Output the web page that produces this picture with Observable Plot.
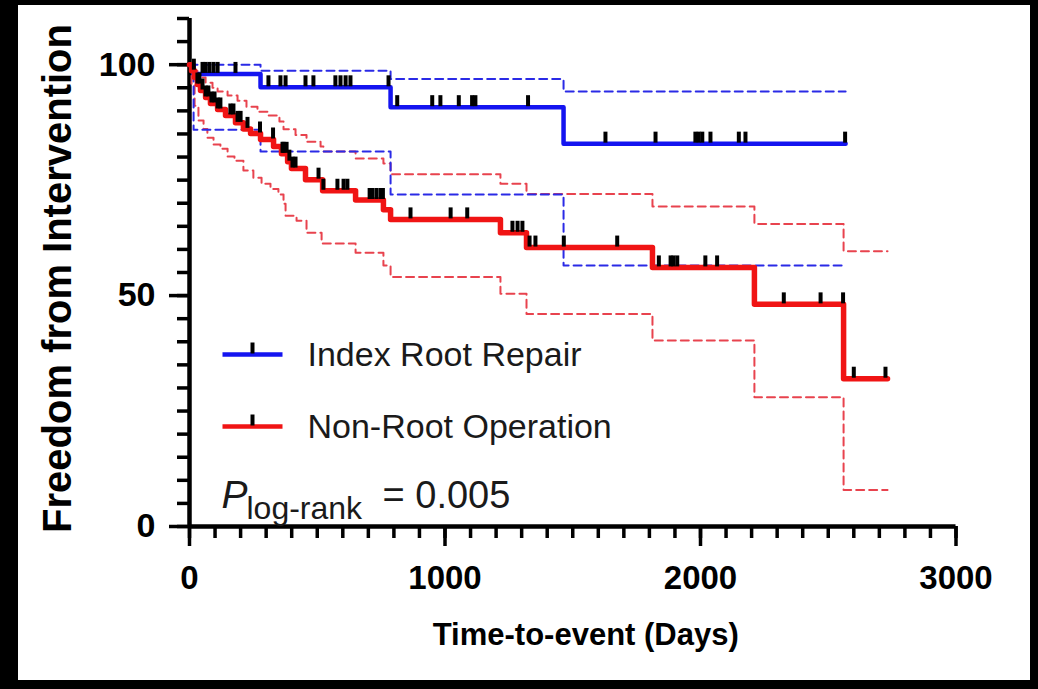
<!DOCTYPE html>
<html><head><meta charset="utf-8">
<script src="https://cdn.jsdelivr.net/npm/d3@7"></script>
<script src="https://cdn.jsdelivr.net/npm/@observablehq/plot@0.6"></script>
<style>
html,body{margin:0;padding:0;background:#000;width:1038px;height:689px;overflow:hidden;}
#panel{position:absolute;left:18px;top:5px;width:1012px;height:675px;background:#fff;}
#chart{position:absolute;left:0;top:0;}
</style></head><body><div id="panel"></div><div id="chart"></div>
<script>
// ---- Data ----
const groups = ["Index Root Repair", "Non-Root Operation"];

const blueTime = [0, 16, 278, 787, 1464, 2568];
const blueSurv = [100, 98.0, 95.1, 90.8, 82.9, 82.9];
const blueUpperTime = [0, 278, 787, 1464, 2568];
const blueUpper = [100, 98.7, 96.9, 94.2, 94.2];
const blueLowerTime = [0, 16, 278, 787, 1464, 2568];
const blueLower = [100, 85.9, 81.2, 71.9, 56.5, 56.5];
const blueCensor = [51, 63, 78, 94, 110, 180, 309, 356, 376, 454, 485, 571, 591, 611, 630, 779,
  813, 950, 982, 1054, 1106, 1119, 1325, 1628, 1824, 1980, 1993, 2007, 2039, 2150, 2176, 2566];

const redTime = [0, 8, 20, 31, 43, 63, 82, 110, 141, 180, 211, 239, 278, 329, 360, 384, 399, 454, 521, 650,
  759, 787, 1217, 1319, 1812, 2211, 2560, 2732];
const redSurv = [100, 98.7, 97.2, 95.7, 94.4, 92.9, 91.6, 90.3, 89.0, 87.4, 86.1, 85.1, 83.8, 82.3, 80.7, 79.0, 77.5, 75.1, 72.7, 70.7,
  68.6, 66.5, 63.6, 60.4, 56.1, 48.1, 32.0, 32.0];
const redUpperTime = [0, 12, 31, 63, 90, 110, 149, 188, 223, 266, 309, 352, 368, 415, 458, 513, 524, 650, 759, 787,
  1217, 1319, 1812, 2211, 2560, 2732];
const redUpper = [100, 98.7, 97.2, 96.1, 95.0, 94.2, 93.3, 92.2, 90.9, 89.8, 89.0, 87.7, 86.0, 84.8, 83.3, 82.3, 81.2, 79.7, 78.6, 76.3,
  74.2, 72.0, 69.3, 65.5, 59.6, 59.6];
const redLowerTime = [0, 8, 20, 35, 55, 70, 94, 121, 149, 176, 211, 250, 282, 317, 348, 368, 376, 419, 458, 517,
  650, 759, 787, 1217, 1319, 1812, 2211, 2560, 2732];
const redLower = [100, 95.5, 91.1, 87.9, 86.1, 84.2, 82.7, 81.8, 80.1, 79.2, 77.1, 75.5, 74.2, 73.1, 71.9, 69.9, 67.3, 66.2, 63.6, 61.3,
  59.3, 56.5, 54.0, 50.4, 46.0, 40.3, 28.0, 7.9, 7.9];
const redCensor = [17, 31, 39, 51, 63, 74, 86, 98, 110, 121, 160, 172, 188, 200, 227, 276, 327, 364, 368, 380, 391, 403, 415,
  505, 524, 579, 603, 618, 705, 716, 732, 748, 757, 865, 1022, 1087, 1264, 1284, 1303, 1331, 1354, 1465,
  1674, 1837, 1883, 1894, 1909, 2019, 2065, 2326, 2470, 2558, 2600, 2724];

const xMajorTicks = [0, 1000, 2000, 3000];
const yMajorTicks = [0, 50, 100];
const pLabel = "P";
const pSub = "log-rank";
const pValue = "= 0.005";
const xTitle = "Time-to-event (Days)";
const yTitle = "Freedom from Intervention";

// ---- helpers ----
const zip = (t, v) => t.map((d, i) => ({t: d, v: v[i]}));
const levelAt = (times, vals, t) => { let v = vals[0]; for (let i = 0; i < times.length; i++) if (times[i] <= t) v = vals[i]; return v; };
const censors = (c, times, vals) => c.map(t => ({t, v: levelAt(times, vals, t)}));

const BLUE = "#1414f0", RED = "#f01414", BLUE_D = "#2a2ae6", RED_D = "#e8434e";
const censorSymbol = {draw(ctx) { ctx.moveTo(-2, 1); ctx.lineTo(2, 1); ctx.lineTo(2, -10); ctx.lineTo(-2, -10); ctx.closePath(); }};
const legendLine = {draw(ctx) { ctx.moveTo(-30, 0); ctx.lineTo(30, 0); }};

const step = {x: "t", y: "v", curve: "step-after"};

const plot = Plot.plot({
  width: 1038, height: 689,
  marginLeft: 189, marginRight: 82.5, marginTop: 18, marginBottom: 163,
  x: {domain: [0, 3000]},
  y: {domain: [0, 110]},
  style: {background: "transparent", fontFamily: "'Liberation Sans', Arial, sans-serif", color: "#000", fontWeight: "bold"},
  marks: [
    Plot.axisY(d3.range(0, 111, 5), {tickSize: 12, tickFormat: () => "", strokeWidth: 3.5, label: null}),
    Plot.axisY(yMajorTicks, {tickSize: 20, tickPadding: 14, fontSize: 34, fontWeight: "bold", strokeWidth: 3.5, label: null, tickFormat: d => String(d)}),
    Plot.axisX(d3.range(0, 3001, 100), {tickSize: 12, tickFormat: () => "", strokeWidth: 3.5, label: null}),
    Plot.axisX(xMajorTicks, {tickSize: 20, tickPadding: 19, fontSize: 33, fontWeight: "bold", strokeWidth: 3.5, label: null, tickFormat: d => String(d)}),
    Plot.ruleX([0], {strokeWidth: 4.5}),
    Plot.ruleY([0], {strokeWidth: 4.5}),
    // confidence bands
    Plot.line(zip(redUpperTime, redUpper), {...step, stroke: RED_D, strokeWidth: 2, strokeDasharray: "8,5"}),
    Plot.line(zip(redLowerTime, redLower), {...step, stroke: RED_D, strokeWidth: 2, strokeDasharray: "8,5"}),
    Plot.line(zip(blueUpperTime, blueUpper), {...step, stroke: BLUE_D, strokeWidth: 2, strokeDasharray: "8,5"}),
    Plot.line(zip(blueLowerTime, blueLower), {...step, stroke: BLUE_D, strokeWidth: 2, strokeDasharray: "8,5"}),
    // survival curves
    Plot.line(zip(blueTime, blueSurv), {...step, stroke: BLUE, strokeWidth: 4.5}),
    Plot.line(zip(redTime, redSurv), {...step, stroke: RED, strokeWidth: 5.5}),
    // censor marks
    Plot.dot(censors(blueCensor, blueTime, blueSurv), {x: "t", y: "v", symbol: censorSymbol, fill: "#000", stroke: "none", dy: -2}),
    Plot.dot(censors(redCensor, redTime, redSurv), {x: "t", y: "v", symbol: censorSymbol, fill: "#000", stroke: "none", dy: -2}),
    // legend
    Plot.dot([groups[0]], {frameAnchor: "top-left", dx: 63, dy: 336, symbol: legendLine, stroke: BLUE, strokeWidth: 4.5, fill: "none"}),
    Plot.dot([groups[0]], {frameAnchor: "top-left", dx: 63, dy: 334, symbol: censorSymbol, fill: "#000", stroke: "none"}),
    Plot.text([groups[0]], {text: d => d, frameAnchor: "top-left", dx: 118, dy: 337, textAnchor: "start", lineAnchor: "middle", fontSize: 34, fontWeight: "normal", fill: "#1a1a1a"}),
    Plot.dot([groups[1]], {frameAnchor: "top-left", dx: 63, dy: 408, symbol: legendLine, stroke: RED, strokeWidth: 4.5, fill: "none"}),
    Plot.dot([groups[1]], {frameAnchor: "top-left", dx: 63, dy: 406, symbol: censorSymbol, fill: "#000", stroke: "none"}),
    Plot.text([groups[1]], {text: d => d, frameAnchor: "top-left", dx: 118, dy: 409, textAnchor: "start", lineAnchor: "middle", fontSize: 34, fontWeight: "normal", fill: "#1a1a1a"}),
    // p-value annotation
    Plot.text([pLabel], {text: d => d, frameAnchor: "top-left", dx: 32, dy: 489, textAnchor: "start", lineAnchor: "bottom", fontSize: 39, fontWeight: "normal", fontStyle: "italic", fill: "#1a1a1a"}),
    Plot.text([pSub], {text: d => d, frameAnchor: "top-left", dx: 57, dy: 500, textAnchor: "start", lineAnchor: "bottom", fontSize: 32, fontWeight: "normal", fill: "#1a1a1a"}),
    Plot.text([pValue], {text: d => d, frameAnchor: "top-left", dx: 193, dy: 489, textAnchor: "start", lineAnchor: "bottom", fontSize: 38, fontWeight: "normal", fill: "#1a1a1a"}),
    // axis titles
    Plot.text([yTitle], {text: d => d, frameAnchor: "left", dx: -131, dy: 6, rotate: -90, textAnchor: "middle", lineAnchor: "middle", fontSize: 40, fontWeight: "bold", fill: "#000"}),
    Plot.text([xTitle], {text: d => d, frameAnchor: "bottom", dx: 13, dy: 118, textAnchor: "middle", lineAnchor: "bottom", fontSize: 31, fontWeight: "bold", fill: "#000"})
  ]
});
document.getElementById("chart").appendChild(plot);
</script>
</body></html>
